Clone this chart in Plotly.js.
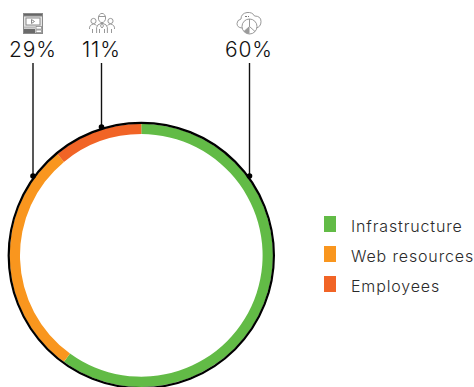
<!DOCTYPE html>
<html><head><meta charset="utf-8">
<script src="https://cdn.plot.ly/plotly-3.0.1.min.js"></script>
<style>html,body{margin:0;padding:0;background:#fff;overflow:hidden}#c{width:474px;height:387px}
.annotation-text{letter-spacing:.85px}</style>
</head><body><div id="c"></div>
<script>
const categories = ["Infrastructure", "Web resources", "Employees"];
const shares = [60, 29, 11];
const colors = ["#62bb46", "#f9961e", "#f16426"];
// label order along the top of the chart
const calloutOrder = [1, 2, 0];

const W = 474, H = 387;
const px = x => x / W, py = y => 1 - y / H;
const cx = 141.3, cy = 255.4, rPie = 131.6, rOuter = 132.6, holeRadius = 121.3;
const calloutX = [33, 101.5, 249.5], calloutEndY = [176, 127, 176];
const calloutIconX = [22, 88, 236];
const legendY = [224, 254, 284];

const svg = (w, h, body) => "data:image/svg+xml;utf8," + encodeURIComponent(
  `<svg xmlns="http://www.w3.org/2000/svg" width="${w}" height="${h}" viewBox="0 0 ${w} ${h}">${body}</svg>`);
const icons = [
  svg(22, 22, `<g fill="none" stroke="#8a8a8a" stroke-width="1"><rect x="1.5" y="1.5" width="19" height="20" fill="#e4e4e4"/><rect x="1.5" y="1.5" width="19" height="2.5" fill="#666"/><rect x="4" y="6" width="14" height="7" fill="#fff"/><path d="M9.5 7.5v4l3-2z"/></g><rect x="2" y="14.5" width="11" height="2" fill="#bbb"/><rect x="2" y="17" width="11" height="4" fill="#6a6a6a"/><g fill="#fff" stroke="#8a8a8a" stroke-width=".8"><rect x="14" y="14.5" width="5.5" height="2.6"/><rect x="14" y="18" width="5.5" height="2.6"/></g>`),
  svg(28, 22, `<g fill="none" stroke="#8d8d8d" stroke-width=".9"><ellipse cx="14" cy="6" rx="3.6" ry="4.6"/><path d="M10.5 4.5h7M8.6 21v-5.5q0-3 5.4-4.5q5.4 1.500 5.400 4.500V21M14 11l-1.500 3 1.500 2 1.500-2z"/><circle cx="5.500" cy="9" r="2.600"/><circle cx="22.500" cy="9" r="2.600"/><path d="M1.500 17q-.5-4 4-5q2 .3 3 1.600M26.500 17q.5-4-4-5q-2 .3-3 1.600M4.500 17v4M23.500 17v4M11.500 17v4M16.500 17v4"/></g>`),
  svg(26, 24, `<g fill="none" stroke="#8d8d8d" stroke-width=".9"><path d="M6 17q-5-.5-5-4.500q0-3.500 4-4.500q0-5.500 6-6.500q5.500-.5 7.500 3.500q6.500 0 6.500 5.500q0 5.500-5 6.500"/><circle cx="13.500" cy="15.500" r="7.500" fill="#fff"/><path d="M13.500 15.500V8M13.500 15.500L8 20.500M13.500 15.500L19 20.500"/></g><path d="M13.500 15.500L8 20.500A7.500 7.500 0 0 0 13.500 23z" fill="#9a9a9a"/><path d="M9 5.500h2M12 5.500h1" stroke="#777" stroke-width="1"/>`)
];

const shapes = [{
  type: "circle", xref: "paper", yref: "paper", layer: "above",
  x0: px(cx - rOuter), x1: px(cx + rOuter), y0: py(cy + rOuter), y1: py(cy - rOuter),
  line: {color: "#000", width: 2.2}, fillcolor: "rgba(0,0,0,0)"
}];
const annotations = [], images = [];
calloutOrder.forEach((idx, i) => {
  const x = calloutX[i], yEnd = calloutEndY[i];
  shapes.push({type: "line", xref: "paper", yref: "paper", layer: "above",
    x0: px(x), x1: px(x), y0: py(63), y1: py(yEnd), line: {color: "#111", width: 1.4}});
  shapes.push({type: "circle", xref: "paper", yref: "paper", layer: "above",
    x0: px(x - 2.8), x1: px(x + 2.8), y0: py(yEnd + 2.8), y1: py(yEnd - 2.8),
    line: {width: 0}, fillcolor: "#000"});
  annotations.push({xref: "paper", yref: "paper", x: px(x - 0.5), y: py(50), xanchor: "center", yanchor: "middle",
    showarrow: false, text: shares[idx] + "%",
    font: {family: "Inter, sans-serif", size: 21, color: "#111", weight: 300}});
  images.push({source: icons[i], xref: "paper", yref: "paper", x: px(calloutIconX[i]), y: py(11),
    sizex: (i === 0 ? 22 : i === 1 ? 28 : 26) / W, sizey: 24 / H, xanchor: "left", yanchor: "top", sizing: "contain", layer: "above"});
});
categories.forEach((name, i) => {
  shapes.push({type: "rect", xref: "paper", yref: "paper", layer: "above",
    x0: px(324), x1: px(336), y0: py(legendY[i] + 8), y1: py(legendY[i] - 8),
    line: {width: 0}, fillcolor: colors[i]});
  annotations.push({xref: "paper", yref: "paper", x: px(348.5), y: py(legendY[i] + 1.6), xanchor: "left", yanchor: "middle",
    showarrow: false, text: name,
    font: {family: "Inter, sans-serif", size: 16, color: "#2a2a2a", weight: 300}});
});

Plotly.newPlot("c", [{
  type: "pie", values: shares, labels: categories, sort: false, direction: "clockwise", rotation: 0,
  hole: holeRadius / rPie, textinfo: "none", hoverinfo: "label+percent",
  marker: {colors: colors, line: {width: 0}},
  domain: {x: [px(cx - rPie), px(cx + rPie)], y: [py(cy + rPie), py(cy - rPie)]}
}], {
  width: W, height: H, margin: {l: 0, r: 0, t: 0, b: 0}, showlegend: false,
  paper_bgcolor: "#fff", shapes, annotations, images
}, {displayModeBar: false, staticPlot: true});
</script></body></html>
